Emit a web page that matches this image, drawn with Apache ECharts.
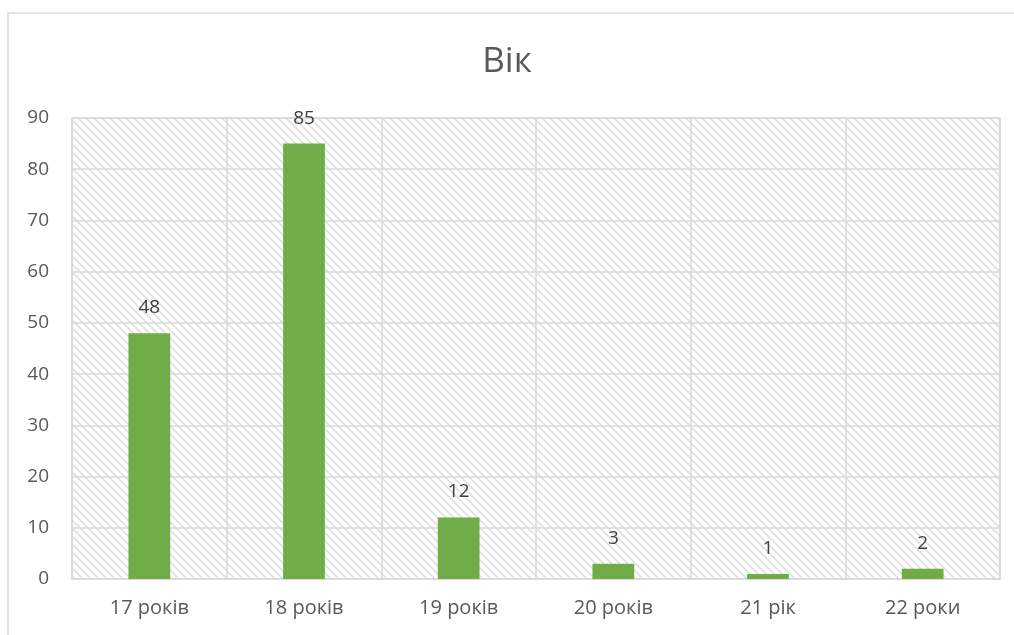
<!DOCTYPE html>
<html>
<head>
<meta charset="utf-8">
<script src="https://cdn.jsdelivr.net/npm/echarts@6/dist/echarts.min.js"></script>
<style>
  html, body {margin:0;padding:0;background:#fff;}
  #chart {width:1014px;height:635px;}
</style>
</head>
<body>
<div id="chart"></div>
<script>
  var categories = ['17 років', '18 років', '19 років', '20 років', '21 рік', '22 роки'];
  var values = [48, 85, 12, 3, 1, 2];
  var yTicks = [0, 10, 20, 30, 40, 50, 60, 70, 80, 90];

  // diagonal hatch tile for the plot background
  function hatchTile() {
    var c = document.createElement('canvas');
    c.width = 8; c.height = 8;
    var ctx = c.getContext('2d');
    ctx.fillStyle = '#fff';
    ctx.fillRect(0, 0, 8, 8);
    ctx.strokeStyle = '#e0e0e0';
    ctx.lineWidth = 1.6;
    ctx.beginPath();
    ctx.moveTo(-2, -2); ctx.lineTo(10, 10);
    ctx.moveTo(-10, -2); ctx.lineTo(2, 10);
    ctx.moveTo(6, -2); ctx.lineTo(18, 10);
    ctx.stroke();
    return c;
  }

  var chart = echarts.init(document.getElementById('chart'));
  var font = '"Open Sans", sans-serif';
  var option = {
    animation: false,
    backgroundColor: '#fff',
    title: {
      text: 'Вік',
      left: 'center',
      top: 40,
      textStyle: {fontFamily: font, fontSize: 35, fontWeight: 'normal', color: '#595959'}
    },
    graphic: [{
      type: 'rect',
      shape: {x: 8, y: 13, width: 1020, height: 640},
      style: {fill: 'none', stroke: '#d9d9d9', lineWidth: 1.5},
      silent: true
    }],
    grid: {
      left: 72, right: 14, top: 118, bottom: 56,
      show: true,
      backgroundColor: {image: hatchTile(), repeat: 'repeat'},
      borderColor: '#d9d9d9',
      borderWidth: 1.5
    },
    xAxis: {
      type: 'category',
      data: categories,
      axisLine: {lineStyle: {color: '#d9d9d9', width: 1.5}},
      axisTick: {show: false},
      axisLabel: {fontFamily: font, fontSize: 20, color: '#595959', margin: 19},
      splitLine: {show: true, lineStyle: {color: '#d9d9d9', width: 1.5}}
    },
    yAxis: {
      type: 'value',
      min: yTicks[0],
      max: yTicks[yTicks.length - 1],
      interval: 10,
      axisLine: {show: false},
      axisTick: {show: false},
      axisLabel: {fontFamily: font, fontSize: 19, color: '#595959', margin: 23},
      splitLine: {lineStyle: {color: '#d9d9d9', width: 1.5}}
    },
    series: [{
      type: 'bar',
      data: values,
      barWidth: '27%',
      itemStyle: {color: '#70ad47'},
      label: {
        show: true,
        position: 'top',
        distance: 16,
        fontFamily: font,
        fontSize: 19,
        color: '#404040'
      }
    }]
  };
  chart.setOption(option);
</script>
</body>
</html>
